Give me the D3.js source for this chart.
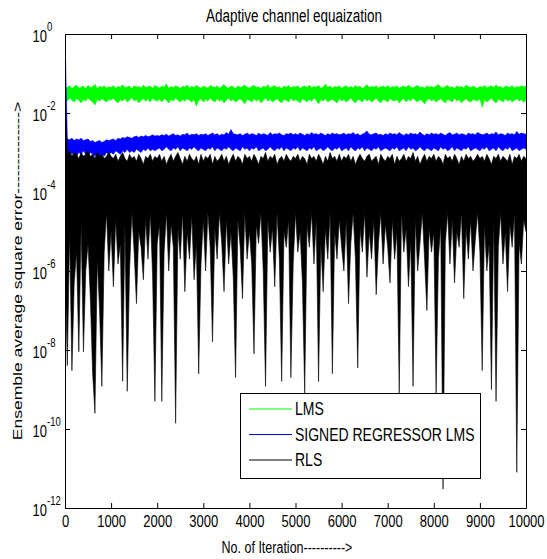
<!DOCTYPE html>
<html>
<head>
<meta charset="utf-8">
<script src="https://cdn.jsdelivr.net/npm/d3@7"></script>
<style>
  body { margin: 0; background: #fff; }
  text { font-family: "Liberation Sans", Arial, sans-serif; fill: #000; }
</style>
</head>
<body>
<div id="chart"></div>
<script>
// axis ticks
var xTicks = [0, 1000, 2000, 3000, 4000, 5000, 6000, 7000, 8000, 9000, 10000];
var yTickExp = [0, -2, -4, -6, -8, -10, -12];

var seriesNames = ["LMS", "SIGNED REGRESSOR LMS", "RLS"];
var seriesColors = ["#00ff00", "#0000ff", "#000000"];

// error curves: for every block of 50 iterations
// the highest (peaks) and lowest (dips) value the curve reaches
var blockSize = 50;

var lmsPeaks = [
  0.047,0.044,0.049,0.042,0.046,0.051,0.043,0.045,0.048,0.041,0.050,0.044,0.046,0.053,0.042,0.047,0.045,0.049,0.043,0.046,
  0.044,0.050,0.042,0.047,0.045,0.052,0.043,0.046,0.048,0.041,0.049,0.045,0.047,0.043,0.051,0.044,0.046,0.048,0.042,0.050,
  0.046,0.043,0.048,0.045,0.055,0.042,0.047,0.044,0.049,0.046,0.041,0.048,0.045,0.051,0.043,0.047,0.044,0.050,0.046,0.042,
  0.048,0.045,0.043,0.050,0.046,0.044,0.049,0.042,0.047,0.053,0.045,0.043,0.048,0.046,0.041,0.049,0.044,0.047,0.051,0.045,
  0.043,0.047,0.050,0.044,0.046,0.042,0.048,0.045,0.052,0.043,0.047,0.049,0.044,0.046,0.041,0.048,0.045,0.050,0.043,0.047,
  0.045,0.049,0.042,0.046,0.048,0.044,0.051,0.043,0.047,0.045,0.050,0.042,0.046,0.054,0.044,0.048,0.043,0.047,0.045,0.049,
  0.042,0.046,0.049,0.044,0.047,0.043,0.050,0.045,0.048,0.041,0.046,0.052,0.044,0.047,0.045,0.049,0.043,0.046,0.048,0.044,
  0.050,0.043,0.047,0.045,0.049,0.042,0.046,0.048,0.044,0.051,0.045,0.043,0.047,0.050,0.044,0.046,0.042,0.049,0.045,0.047,
  0.044,0.048,0.053,0.045,0.043,0.047,0.050,0.044,0.046,0.042,0.049,0.045,0.047,0.043,0.051,0.046,0.044,0.048,0.045,0.042,
  0.047,0.045,0.050,0.043,0.046,0.049,0.044,0.052,0.045,0.047,0.042,0.048,0.046,0.044,0.050,0.043,0.047,0.045,0.049,0.046,
  0.048
];
var lmsDips = [
  0.022,0.020,0.024,0.021,0.019,0.023,0.021,0.018,0.022,0.020,0.024,0.021,0.019,0.016,0.022,0.020,0.023,0.021,0.019,0.022,
  0.021,0.024,0.020,0.018,0.022,0.020,0.023,0.019,0.021,0.025,0.020,0.022,0.018,0.021,0.023,0.020,0.022,0.019,0.024,0.021,
  0.020,0.022,0.019,0.023,0.021,0.018,0.022,0.020,0.024,0.021,0.019,0.022,0.020,0.023,0.021,0.019,0.022,0.015,0.021,0.023,
  0.019,0.022,0.020,0.024,0.021,0.019,0.023,0.020,0.022,0.018,0.021,0.024,0.020,0.022,0.019,0.021,0.023,0.020,0.017,0.022,
  0.021,0.019,0.023,0.020,0.022,0.018,0.021,0.024,0.020,0.022,0.019,0.021,0.023,0.020,0.018,0.022,0.021,0.019,0.024,0.020,
  0.022,0.020,0.018,0.023,0.021,0.019,0.022,0.020,0.024,0.021,0.017,0.022,0.020,0.023,0.019,0.021,0.022,0.020,0.018,0.023,
  0.020,0.022,0.019,0.021,0.024,0.020,0.018,0.022,0.021,0.019,0.023,0.020,0.022,0.019,0.021,0.024,0.020,0.018,0.022,0.021,
  0.019,0.023,0.021,0.020,0.022,0.018,0.021,0.023,0.019,0.022,0.020,0.024,0.021,0.019,0.022,0.020,0.017,0.021,0.023,0.020,
  0.022,0.019,0.021,0.023,0.020,0.018,0.022,0.021,0.019,0.024,0.020,0.022,0.018,0.021,0.023,0.020,0.019,0.022,0.021,0.020,
  0.023,0.014,0.022,0.019,0.021,0.024,0.020,0.018,0.022,0.021,0.019,0.023,0.020,0.022,0.019,0.021,0.023,0.020,0.022,0.019,
  0.021
];

var srlmsPeaks = [
  1.0,0.0022,0.0021,0.0023,0.0020,0.0022,0.0021,0.0023,0.0020,0.0021,0.0022,0.0019,0.0020,0.0018,0.0019,0.0020,0.0018,0.0019,0.0021,0.0020,
  0.0021,0.0022,0.0020,0.0023,0.0022,0.0024,0.0023,0.0025,0.0024,0.0023,0.0025,0.0026,0.0024,0.0026,0.0025,0.0027,0.0025,0.0026,0.0028,0.0026,
  0.0027,0.0026,0.0028,0.0027,0.0029,0.0026,0.0028,0.0030,0.0027,0.0028,0.0026,0.0029,0.0028,0.0031,0.0027,0.0029,0.0028,0.0030,0.0027,0.0029,
  0.0028,0.0030,0.0027,0.0029,0.0031,0.0028,0.0030,0.0027,0.0029,0.0028,0.0032,0.0029,0.0038,0.0030,0.0029,0.0028,0.0030,0.0027,0.0029,0.0031,
  0.0028,0.0030,0.0029,0.0027,0.0031,0.0028,0.0030,0.0029,0.0027,0.0032,0.0028,0.0030,0.0029,0.0031,0.0028,0.0027,0.0030,0.0029,0.0031,0.0028,
  0.0030,0.0028,0.0031,0.0029,0.0027,0.0030,0.0028,0.0032,0.0029,0.0030,0.0028,0.0031,0.0029,0.0027,0.0030,0.0028,0.0031,0.0029,0.0030,0.0028,
  0.0029,0.0031,0.0028,0.0030,0.0029,0.0032,0.0028,0.0030,0.0027,0.0029,0.0031,0.0035,0.0029,0.0028,0.0030,0.0031,0.0028,0.0029,0.0027,0.0030,
  0.0028,0.0031,0.0029,0.0030,0.0028,0.0032,0.0029,0.0027,0.0030,0.0028,0.0031,0.0029,0.0030,0.0028,0.0033,0.0029,0.0027,0.0030,0.0028,0.0031,
  0.0029,0.0030,0.0028,0.0031,0.0029,0.0027,0.0030,0.0032,0.0028,0.0029,0.0031,0.0028,0.0030,0.0029,0.0027,0.0031,0.0029,0.0030,0.0028,0.0032,
  0.0030,0.0028,0.0029,0.0031,0.0028,0.0030,0.0029,0.0033,0.0028,0.0030,0.0029,0.0027,0.0031,0.0029,0.0030,0.0028,0.0034,0.0029,0.0031,0.0030,
  0.0029
];
var srlmsDips = [
  0.0010,0.0009,0.0011,0.0009,0.0010,0.0008,0.0010,0.0009,0.0011,0.0009,0.0008,0.0010,0.0009,0.0008,0.0009,0.0008,0.0009,0.0008,0.0010,0.0009,
  0.0010,0.0009,0.0011,0.0010,0.0009,0.0011,0.0010,0.0012,0.0010,0.0011,0.0010,0.0012,0.0011,0.0010,0.0012,0.0011,0.0013,0.0011,0.0012,0.0011,
  0.0012,0.0013,0.0011,0.0012,0.0014,0.0012,0.0011,0.0013,0.0012,0.0014,0.0011,0.0013,0.0012,0.0011,0.0013,0.0012,0.0014,0.0012,0.0011,0.0013,
  0.0012,0.0011,0.0013,0.0012,0.0014,0.0011,0.0013,0.0012,0.0011,0.0013,0.0012,0.0014,0.0012,0.0011,0.0013,0.0012,0.0011,0.0014,0.0012,0.0013,
  0.0011,0.0013,0.0012,0.0014,0.0011,0.0012,0.0013,0.0011,0.0012,0.0014,0.0012,0.0011,0.0013,0.0012,0.0014,0.0011,0.0013,0.0012,0.0011,0.0013,
  0.0012,0.0014,0.0011,0.0013,0.0012,0.0011,0.0013,0.0012,0.0014,0.0011,0.0012,0.0013,0.0011,0.0012,0.0014,0.0012,0.0011,0.0013,0.0012,0.0014,
  0.0011,0.0012,0.0013,0.0011,0.0014,0.0012,0.0011,0.0013,0.0012,0.0014,0.0011,0.0013,0.0012,0.0011,0.0013,0.0012,0.0014,0.0011,0.0012,0.0013,
  0.0012,0.0011,0.0013,0.0012,0.0014,0.0011,0.0012,0.0013,0.0011,0.0014,0.0012,0.0013,0.0011,0.0012,0.0014,0.0012,0.0011,0.0013,0.0012,0.0011,
  0.0013,0.0012,0.0011,0.0014,0.0012,0.0013,0.0011,0.0012,0.0014,0.0011,0.0013,0.0012,0.0011,0.0013,0.0012,0.0014,0.0011,0.0012,0.0013,0.0012,
  0.0011,0.0013,0.0012,0.0014,0.0011,0.0012,0.0013,0.0011,0.0014,0.0012,0.0011,0.0013,0.0012,0.0014,0.0011,0.0012,0.0013,0.0011,0.0012,0.0013,
  0.0012
];

var rlsPeaks = [
  4e-2,9e-4,1.1e-3,8e-4,1e-3,9e-4,7e-4,1e-3,8e-4,9e-4,1.1e-3,8e-4,9e-4,7e-4,1e-3,8e-4,9e-4,7e-4,8e-4,1e-3,
  8e-4,7e-4,9e-4,6e-4,8e-4,1e-3,7e-4,6e-4,9e-4,7e-4,8e-4,6e-4,9e-4,7e-4,5e-4,8e-4,7e-4,9e-4,6e-4,8e-4,
  7e-4,9e-4,6e-4,8e-4,5e-4,7e-4,9e-4,6e-4,8e-4,1e-3,7e-4,5e-4,8e-4,6e-4,9e-4,7e-4,6e-4,8e-4,5e-4,9e-4,
  6e-4,8e-4,7e-4,9e-4,5e-4,8e-4,6e-4,7e-4,9e-4,6e-4,8e-4,5e-4,7e-4,9e-4,6e-4,8e-4,7e-4,5e-4,9e-4,7e-4,
  8e-4,6e-4,9e-4,7e-4,5e-4,8e-4,7e-4,1e-3,6e-4,8e-4,7e-4,9e-4,5e-4,7e-4,8e-4,6e-4,9e-4,7e-4,6e-4,8e-4,
  7e-4,9e-4,6e-4,8e-4,7e-4,5e-4,9e-4,7e-4,8e-4,6e-4,9e-4,7e-4,5e-4,8e-4,6e-4,1e-3,7e-4,8e-4,6e-4,9e-4,
  6e-4,8e-4,7e-4,9e-4,6e-4,8e-4,5e-4,7e-4,9e-4,7e-4,6e-4,8e-4,9e-4,6e-4,7e-4,8e-4,5e-4,9e-4,7e-4,6e-4,
  8e-4,7e-4,9e-4,5e-4,8e-4,6e-4,7e-4,9e-4,6e-4,8e-4,7e-4,1e-3,6e-4,8e-4,5e-4,7e-4,9e-4,6e-4,8e-4,7e-4,
  9e-4,6e-4,8e-4,7e-4,5e-4,9e-4,7e-4,8e-4,6e-4,9e-4,7e-4,5e-4,8e-4,6e-4,9e-4,7e-4,8e-4,6e-4,7e-4,9e-4,
  7e-4,8e-4,6e-4,9e-4,7e-4,5e-4,8e-4,7e-4,9e-4,6e-4,8e-4,7e-4,6e-4,9e-4,5e-4,8e-4,7e-4,9e-4,6e-4,8e-4,
  7e-4
];
var rlsDips = [
  2e-6,4e-9,1e-5,3e-9,5e-7,3e-6,9e-9,1.5e-5,9e-9,1e-6,5e-6,2e-7,2.5e-9,2.5e-10,2e-6,1e-7,1.2e-9,3e-6,3e-5,1e-6,
  1e-5,4e-7,2e-5,1.5e-6,5e-6,1.6e-9,1.5e-5,9e-10,1e-6,3e-5,3e-6,1.5e-7,1e-5,4e-6,6e-7,2e-5,2e-6,3e-5,8e-7,5e-10,
  5e-6,1.5e-5,5e-10,3e-6,3e-5,1e-6,1.5e-5,4e-6,1.4e-10,1.2e-5,2e-6,3e-5,3e-7,1e-5,2e-6,2.5e-5,6e-7,5e-6,2.5e-9,1.5e-6,
  2e-5,1e-6,3e-5,4e-6,1.6e-8,1.2e-5,2e-6,3e-5,5e-6,3e-7,2e-5,1.5e-6,1e-5,7e-7,2e-9,2e-5,4e-6,2e-7,3e-5,2e-6,
  1e-5,1.5e-6,8e-9,1.5e-5,5e-6,3e-5,1e-6,1.2e-9,2e-5,3e-6,1.2e-5,4e-7,3e-5,2e-6,1.6e-9,1e-5,4e-6,2e-5,2e-9,1.5e-6,
  3e-5,3e-6,1e-5,5e-7,8e-10,1.5e-5,4e-6,3e-5,1.5e-6,2e-5,1.6e-9,5e-6,3e-7,1.2e-5,2e-6,3e-5,2.5e-9,1e-5,2e-6,2e-5,
  4e-6,1e-6,2e-5,1.5e-7,5e-6,3e-5,2e-6,3.5e-9,1.2e-5,3e-6,3e-5,7e-7,1e-5,2e-6,2e-5,2.5e-7,5e-6,3e-5,1.5e-6,1.5e-5,
  4e-6,5e-7,2e-5,2e-6,1e-5,8e-10,3e-5,3e-6,1.2e-5,4e-7,6e-6,1.2e-9,2e-5,1e-6,5e-6,3e-5,2e-6,1e-7,1.2e-5,3e-6,
  1e-5,8e-10,2e-6,1.5e-5,3e-12,5e-6,3e-5,1.5e-6,2e-5,5e-7,1e-5,4e-6,3e-5,2e-7,1.2e-5,2e-6,2e-5,1e-6,6e-6,3e-5,
  3e-6,3e-9,1.5e-5,1e-6,5e-6,1e-9,2e-5,5e-10,4e-6,3e-5,1.5e-6,1e-5,3e-7,1.5e-5,4e-6,3e-5,8e-12,5e-6,1.5e-6,2e-5,
  1e-5
];

// chart size
var width = 547;
var height = 559;
var plot = { left: 65, right: 526, top: 34, bottom: 508 };
var SY = 1.3; // the original figure is stretched vertically

var svg = d3.select('#chart')
  .append('svg')
  .attr('width', width)
  .attr('height', height);

var x = d3.scaleLinear().domain([0, 10000]).range([plot.left, plot.right]);
var y = d3.scaleLog().domain([1e-12, 1]).range([plot.bottom, plot.top]);

// one record per block: iteration, highest and lowest value
function buildSeries(peaks, dips) {
  return peaks.map(function(p, k) {
    return { it: k * blockSize, hi: p, lo: dips[k] };
  });
}
var series = [
  buildSeries(lmsPeaks, lmsDips),
  buildSeries(srlmsPeaks, srlmsDips),
  buildSeries(rlsPeaks, rlsDips)
];

svg.append('clipPath').attr('id', 'clip')
  .append('rect')
  .attr('x', plot.left).attr('y', plot.top)
  .attr('width', plot.right - plot.left).attr('height', plot.bottom - plot.top);

// the curves are far denser than a pixel, so they are drawn as the
// band they sweep between their highs and lows
var band = d3.area()
  .x(function(d) { return x(d.it); })
  .y0(function(d) { return y(d.lo); })
  .y1(function(d) { return y(d.hi); });

svg.append('g').attr('clip-path', 'url(#clip)')
  .selectAll('path')
  .data(series)
  .enter()
  .append('path')
  .attr('d', band)
  .attr('fill', function(d, i) { return seriesColors[i]; })
  .attr('stroke', function(d, i) { return seriesColors[i]; })
  .attr('stroke-width', 0.6)
  .attr('stroke-linejoin', 'round');

// axes (box with inward ticks)
var yTickVals = yTickExp.map(function(e) { return Math.pow(10, e); });

var xAxis = svg.append('g')
  .attr('transform', 'translate(0,' + plot.bottom + ')')
  .call(d3.axisBottom(x).tickValues(xTicks).tickSizeInner(-5).tickSizeOuter(0).tickFormat(d3.format('d')));
svg.append('g')
  .attr('transform', 'translate(0,' + plot.top + ')')
  .call(d3.axisTop(x).tickValues(xTicks).tickSizeInner(-5).tickSizeOuter(0).tickFormat(''));
svg.append('g')
  .attr('transform', 'translate(' + plot.left + ',0)')
  .call(d3.axisLeft(y).tickValues(yTickVals).tickSizeInner(-5).tickSizeOuter(0).tickFormat(''));
svg.append('g')
  .attr('transform', 'translate(' + plot.right + ',0)')
  .call(d3.axisRight(y).tickValues(yTickVals).tickSizeInner(-5).tickSizeOuter(0).tickFormat(''));

svg.selectAll('.domain').attr('stroke', '#000');
svg.selectAll('.tick line').attr('stroke', '#000');

xAxis.selectAll('text')
  .attr('font-size', 13)
  .attr('font-family', '"Liberation Sans", Arial, sans-serif')
  .attr('fill', '#000')
  .attr('dy', 0)
  .attr('y', 19.5 / SY)
  .attr('transform', 'scale(1,' + SY + ')');

// y tick labels 10^n
var yLab = svg.append('g').selectAll('g')
  .data(yTickExp)
  .enter()
  .append('g');
yLab.append('text')
  .attr('transform', function(e) { return 'translate(47,' + (y(Math.pow(10, e)) + 8) + ') scale(1,' + SY + ')'; })
  .attr('text-anchor', 'end')
  .attr('font-size', 13)
  .text('10');
yLab.append('text')
  .attr('transform', function(e) { return 'translate(47,' + (y(Math.pow(10, e)) - 3) + ') scale(1,' + SY + ')'; })
  .attr('font-size', 9.5)
  .text(function(e) { return e === 0 ? '0' : '-' + Math.abs(e); });

// title and axis labels
svg.append('text')
  .attr('transform', 'translate(294,22) scale(1,' + SY + ')')
  .attr('text-anchor', 'middle')
  .attr('font-size', 13.5)
  .text('Adaptive channel equaization');

svg.append('text')
  .attr('transform', 'translate(287,553) scale(1,' + SY + ')')
  .attr('text-anchor', 'middle')
  .attr('font-size', 12.5)
  .text('No. of Iteration---------->');

svg.append('text')
  .attr('transform', 'translate(22,271) rotate(-90) scale(' + SY + ',1)')
  .attr('text-anchor', 'middle')
  .attr('font-size', 13.5)
  .text('Ensemble average square error-------------->');

// legend
var legend = svg.append('g').attr('transform', 'translate(240,393)');
legend.append('rect')
  .attr('x', 0.5).attr('y', 0.5)
  .attr('width', 240).attr('height', 85)
  .attr('fill', '#fff')
  .attr('stroke', '#000');
var item = legend.selectAll('.legend')
  .data(seriesNames)
  .enter()
  .append('g')
  .attr('class', 'legend')
  .attr('transform', function(d, i) { return 'translate(0,' + (16 + i * 25.5) + ')'; });
item.append('line')
  .attr('x1', 9).attr('x2', 52)
  .attr('stroke', function(d, i) { return seriesColors[i]; })
  .attr('stroke-width', 1);
item.append('text')
  .attr('transform', 'translate(55,6) scale(1,' + SY + ')')
  .attr('font-size', 14)
  .text(function(d) { return d; });
</script>
</body>
</html>
